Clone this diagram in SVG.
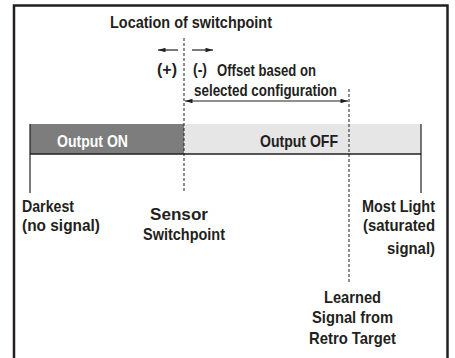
<svg xmlns="http://www.w3.org/2000/svg" width="455" height="358" viewBox="0 0 455 358">
<defs>
<style>
text{font-family:"Liberation Sans",Arial,sans-serif;font-weight:bold;font-size:17px;fill:#231f20}
.w{fill:#ffffff}
.dash{stroke:#231f20;stroke-width:1;stroke-dasharray:3 2;fill:none}
.ln{stroke:#231f20;stroke-width:1.2;fill:none}
</style>
<marker id="ah" viewBox="0 0 10 6" refX="10" refY="3" markerWidth="8" markerHeight="4.5" markerUnits="userSpaceOnUse" orient="auto-start-reverse">
<path d="M0,0 L10,3 L0,6 Z" fill="#231f20"/>
</marker>
</defs>
<rect x="0" y="0" width="455" height="358" fill="#ffffff"/>
<rect id="frame" x="14" y="5.5" width="433.5" height="355" fill="none" stroke="#231f20" stroke-width="2.5"/>
<g id="bar">
<rect x="30" y="124" width="154" height="30" fill="#7d7d7d"/>
<rect x="184" y="124" width="237" height="30" fill="#e6e6e6"/>
<line x1="30" y1="154" x2="421" y2="154" stroke="#231f20" stroke-width="1.5"/>
<text class="w" x="57" y="147" textLength="71" lengthAdjust="spacingAndGlyphs">Output ON</text>
<text x="260" y="147" textLength="78" lengthAdjust="spacingAndGlyphs">Output OFF</text>
</g>
<g id="connectors">
<line class="dash" x1="184" y1="38" x2="184" y2="193"/>
<line class="dash" x1="349" y1="89" x2="349" y2="282"/>
<line class="ln" x1="30" y1="124" x2="30" y2="193"/>
<line class="ln" x1="421" y1="124" x2="421" y2="193"/>
<line class="ln" x1="178" y1="50" x2="158" y2="50" marker-end="url(#ah)"/>
<line class="ln" x1="192" y1="50" x2="213" y2="50" marker-end="url(#ah)"/>
<line class="ln" x1="185" y1="101" x2="348" y2="101" marker-start="url(#ah)" marker-end="url(#ah)"/>
</g>
<g id="title"><text x="110" y="28" textLength="162" lengthAdjust="spacingAndGlyphs">Location of switchpoint</text></g>
<g id="offset">
<text x="157" y="75" textLength="20" lengthAdjust="spacingAndGlyphs">(+)</text>
<text x="193" y="75" textLength="14" lengthAdjust="spacingAndGlyphs">(-)</text>
<text x="217" y="76" textLength="99" lengthAdjust="spacingAndGlyphs">Offset based on</text>
<text x="194" y="96" textLength="143" lengthAdjust="spacingAndGlyphs">selected configuration</text>
</g>
<g id="darkest">
<text x="22" y="212" textLength="52" lengthAdjust="spacingAndGlyphs">Darkest</text>
<text x="22" y="231" textLength="78" lengthAdjust="spacingAndGlyphs">(no signal)</text>
</g>
<g id="sensor">
<text x="150" y="220" textLength="58" lengthAdjust="spacingAndGlyphs">Sensor</text>
<text x="143" y="240" textLength="82" lengthAdjust="spacingAndGlyphs">Switchpoint</text>
</g>
<g id="mostlight">
<text x="362" y="212" textLength="73" lengthAdjust="spacingAndGlyphs">Most Light</text>
<text x="363" y="231" textLength="72" lengthAdjust="spacingAndGlyphs">(saturated</text>
<text x="387" y="254" textLength="48" lengthAdjust="spacingAndGlyphs">signal)</text>
</g>
<g id="learned">
<text x="324" y="303" textLength="57" lengthAdjust="spacingAndGlyphs">Learned</text>
<text x="312" y="323" textLength="81" lengthAdjust="spacingAndGlyphs">Signal from</text>
<text x="309" y="344" textLength="87" lengthAdjust="spacingAndGlyphs">Retro Target</text>
</g>
</svg>
